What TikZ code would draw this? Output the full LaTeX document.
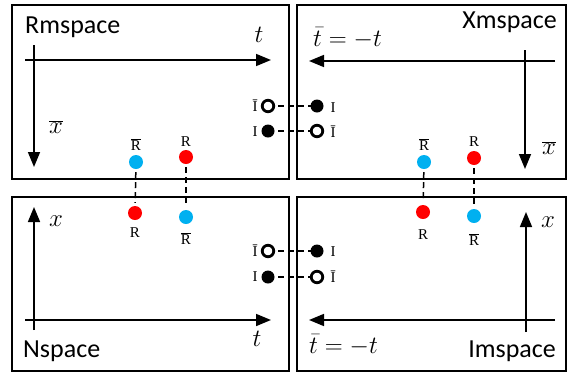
\documentclass[tikz,border=0pt]{standalone}
\usepackage{fontspec}
\setmainfont{Liberation Serif}
\newfontfamily\lblfont{Carlito}
\usetikzlibrary{arrows.meta}
\definecolor{dotblue}{RGB}{0,176,240}
\definecolor{dotred}{RGB}{255,0,0}
\begin{document}
\begin{tikzpicture}[x=1pt,y=-1pt,
 panel/.style={draw, line width=2pt},
 axis/.style={line width=1.6pt, -{Triangle[length=15pt,width=12pt]}},
 conn/.style={dash pattern=on 6pt off 4pt, line width=1.5pt},
 bdot/.style={circle, fill=dotblue, inner sep=0pt, minimum size=14pt},
 rdot/.style={circle, fill=dotred, inner sep=0pt, minimum size=14pt},
 fdot/.style={circle, fill=black, inner sep=0pt, minimum size=13pt},
 odot/.style={circle, draw=black, line width=2.8pt, fill=white, inner sep=0pt, minimum size=11.5pt},
 spname/.style={font=\lblfont\fontsize{26}{30}\selectfont, inner sep=0pt},
 var/.style={font=\fontsize{27}{30}\selectfont, inner sep=0pt},
 tag/.style={font=\fontsize{15}{18}\selectfont, inner sep=0pt}
]
\useasboundingbox (0,0) rectangle (568,373);
% panels
\draw[panel] (12,5) rectangle (289,179);
\draw[panel] (297,5) rectangle (566,179);
\draw[panel] (12,197) rectangle (289,371);
\draw[panel] (297,197) rectangle (566,371);

% axes
\coordinate (a1s) at (25,60);  \coordinate (a1e) at (271,60);
\coordinate (a2s) at (34,45);  \coordinate (a2e) at (34,167);
\coordinate (a3s) at (555,61); \coordinate (a3e) at (309,61);
\coordinate (a4s) at (525,50); \coordinate (a4e) at (525,169);
\coordinate (a5s) at (34,330); \coordinate (a5e) at (34,207);
\coordinate (a6s) at (25,320); \coordinate (a6e) at (271,320);
\coordinate (a7s) at (526,332);\coordinate (a7e) at (526,212);
\coordinate (a8s) at (555,320);\coordinate (a8e) at (309,320);
\draw[axis] (a1s) -- (a1e);
\draw[axis] (a2s) -- (a2e);
\draw[axis] (a3s) -- (a3e);
\draw[axis] (a4s) -- (a4e);
\draw[axis] (a5s) -- (a5e);
\draw[axis] (a6s) -- (a6e);
\draw[axis] (a7s) -- (a7e);
\draw[axis] (a8s) -- (a8e);

% panel names
\node[spname, anchor=base west] (rm) at (25,33) {Rmspace};
\node[spname, anchor=base east] (xm) at (557,28) {Xmspace};
\node[spname, anchor=base west] (ns) at (23,357) {Nspace};
\node[spname, anchor=base east] (im) at (556,357) {Imspace};

% axis labels
\node[var] (t1) at (259,35) {$t$};
\node[var] (xb1) at (56,127) {$\overline{x}$};
\node[var, anchor=base west] (tb2) at (313,46) {$\bar{t}=-t$};
\node[var] (xb2) at (549,148) {$\overline{x}$};
\node[var] (x3) at (56,221) {$x$};
\node[var] (t3) at (257,339) {$t$};
\node[var] (x4) at (548,222) {$x$};
\node[var, anchor=base west] (tb4) at (309,353) {$\bar{t}=-t$};

% coloured dots
\node[bdot] (b1) at (136,162) {};
\node[rdot] (r1) at (186,157) {};
\node[rdot] (r3) at (135,213) {};
\node[bdot] (b3) at (186,217) {};
\node[bdot] (b2) at (424,162) {};
\node[rdot] (r2) at (474,158) {};
\node[rdot] (r4) at (423,212) {};
\node[bdot] (b4) at (474,216) {};
\node[tag] (lb1) at (136,145) {$\overline{\hbox{R}}$};
\node[tag] (lr1) at (186,142) {R};
\node[tag] (lr3) at (135,233) {R};
\node[tag] (lb3) at (186,239) {$\overline{\hbox{R}}$};
\node[tag] (lb2) at (424,145) {$\overline{\hbox{R}}$};
\node[tag] (lr2) at (474,142) {R};
\node[tag] (lr4) at (423,235) {R};
\node[tag] (lb4) at (474,240) {$\overline{\hbox{R}}$};
\draw[conn, shorten <=3pt, shorten >=3pt] (b1) -- (r3);
\draw[conn, shorten <=3pt, shorten >=3pt] (r1) -- (b3);
\draw[conn, shorten <=3pt, shorten >=3pt] (b2) -- (r4);
\draw[conn, shorten <=3pt, shorten >=3pt] (r2) -- (b4);

% black/open circles
\coordinate (c1l) at (268,106); \coordinate (c1r) at (317,106);
\coordinate (c2l) at (268,131); \coordinate (c2r) at (317,131);
\coordinate (c3l) at (268,251); \coordinate (c3r) at (317,251);
\coordinate (c4l) at (268,277); \coordinate (c4r) at (317,277);
\draw[conn] (c1l) -- (c1r);
\draw[conn] (c2l) -- (c2r);
\draw[conn] (c3l) -- (c3r);
\draw[conn] (c4l) -- (c4r);
\node[odot] (o1) at (c1l) {};
\node[fdot] (f1) at (c2l) {};
\node[fdot] (f2) at (c1r) {};
\node[odot] (o2) at (c2r) {};
\node[odot] (o3) at (c3l) {};
\node[fdot] (f3) at (c4l) {};
\node[fdot] (f4) at (c3r) {};
\node[odot] (o4) at (c4r) {};
\node[tag] (lo1) at (255,106) {\=I};
\node[tag] (lf1) at (255,132) {I};
\node[tag] (lf2) at (333,108) {I};
\node[tag] (lo2) at (333,132) {\=I};
\node[tag] (lo3) at (255,251) {\=I};
\node[tag] (lf3) at (255,277) {I};
\node[tag] (lf4) at (333,252) {I};
\node[tag] (lo4) at (333,277) {\=I};
\end{tikzpicture}
\end{document}
